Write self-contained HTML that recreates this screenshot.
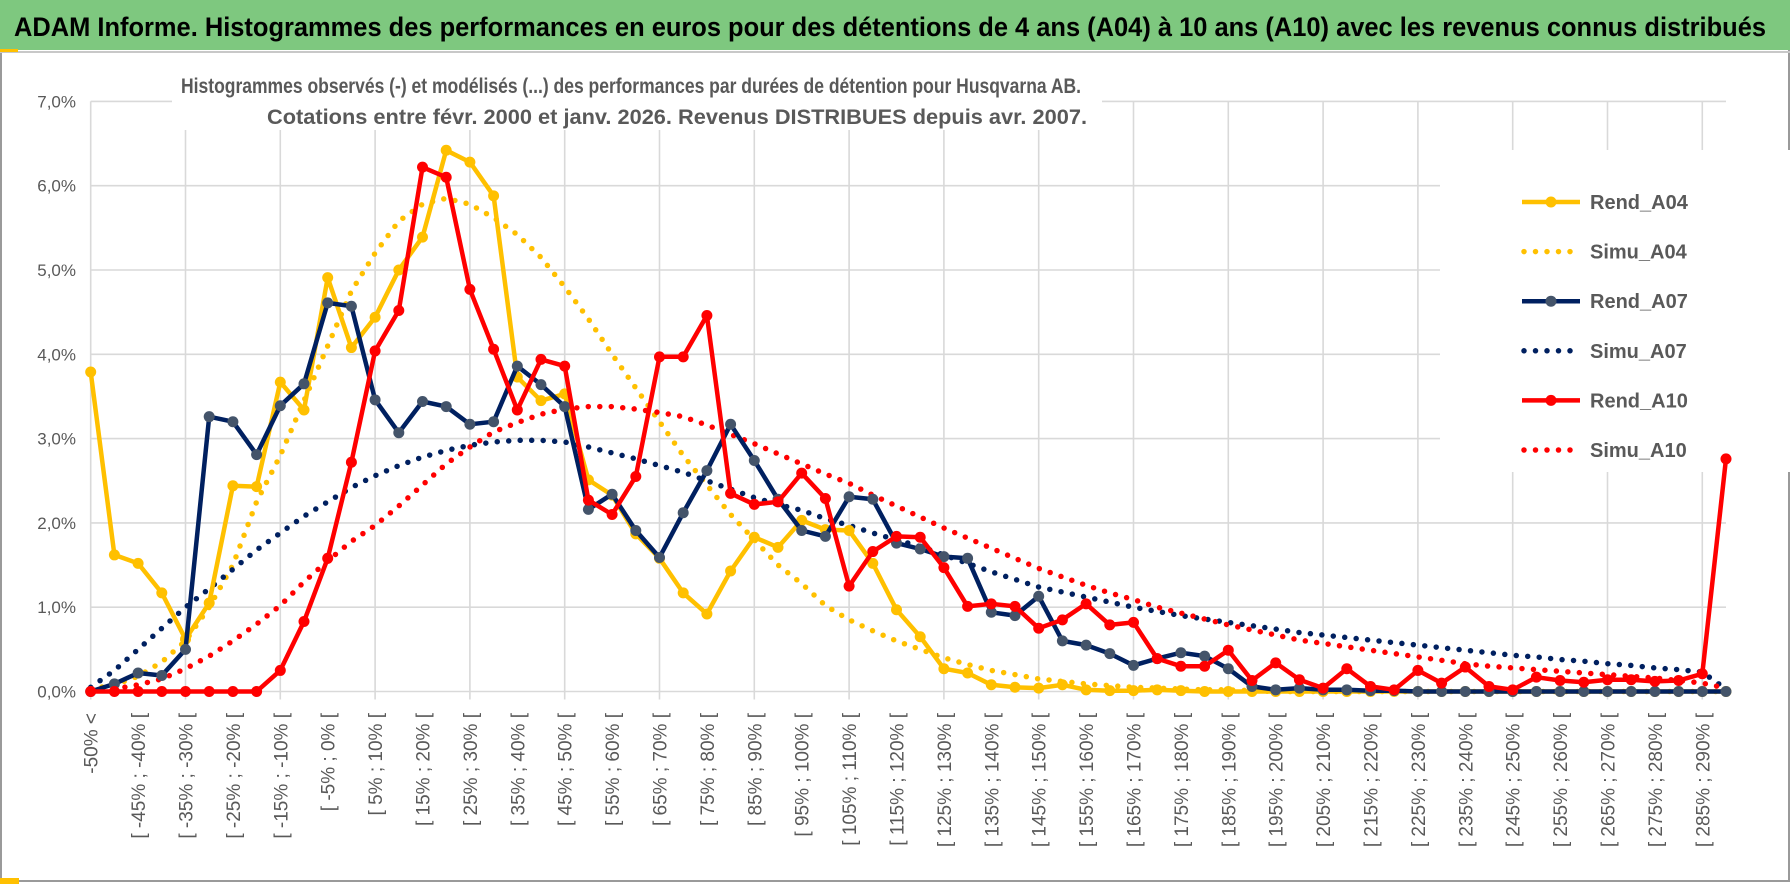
<!DOCTYPE html>
<html><head><meta charset="utf-8">
<style>
html,body{margin:0;padding:0;background:#fff;}
svg{display:block;font-family:"Liberation Sans",sans-serif;}
</style></head>
<body>
<svg id="chart" width="1790" height="888" viewBox="0 0 1790 888" xmlns="http://www.w3.org/2000/svg">
<rect x="0" y="0" width="1790" height="888" fill="#fff"/>
<rect x="1" y="1" width="1788" height="880" fill="none" stroke="#9a9a9a" stroke-width="2"/>
<rect x="0" y="0" width="1790" height="50" fill="#7EC87F"/>
<line x1="0" y1="52" x2="1790" y2="52" stroke="#c8c8c8" stroke-width="2"/>
<rect x="0" y="49" width="18" height="3" fill="#FFC000"/>
<rect x="0" y="878" width="19" height="6" fill="#FFC000"/>
<text x="14" y="36" font-size="27" font-weight="bold" fill="#000" textLength="1752" lengthAdjust="spacingAndGlyphs">ADAM Informe. Histogrammes des performances en euros pour des détentions de 4 ans (A04) à 10 ans (A10) avec les revenus connus distribués</text>
<g id="grid"></g>
<g id="ylabels"></g>
<g id="xlabels"></g>
<rect x="172" y="68" width="930" height="62" fill="#fff"/>
<text x="631" y="93" text-anchor="middle" font-size="21" font-weight="bold" fill="#595959" textLength="900" lengthAdjust="spacingAndGlyphs">Histogrammes observés (-) et modélisés (...) des performances par durées de détention pour Husqvarna AB.</text>
<text x="677" y="124" text-anchor="middle" font-size="21" font-weight="bold" fill="#595959" textLength="820" lengthAdjust="spacingAndGlyphs">Cotations entre févr. 2000 et janv. 2026. Revenus DISTRIBUES depuis avr. 2007.</text>
<rect x="1440" y="150" width="350" height="322" fill="#fff"/>
<g id="series"></g>
<g id="legend"></g>
</svg>
<script>
const categories = [];
categories.push("-50% <");
for (let s = -50; s < 290; s += 5) categories.push("[ " + s + "% ; " + (s + 5) + "% [");
categories.push("290% >");
const yTicks = [0,1,2,3,4,5,6,7];
const yTickLabels = ["0,0%","1,0%","2,0%","3,0%","4,0%","5,0%","6,0%","7,0%"];
const rendA04 = [3.79,1.62,1.52,1.17,0.62,1.05,2.44,2.43,3.67,3.34,4.91,4.08,4.44,5.0,5.39,6.42,
6.28,5.88,3.73,3.45,3.53,2.51,2.33,1.87,1.58,1.17,0.92,1.43,1.83,1.71,2.03,
1.92,1.91,1.52,0.97,0.65,0.27,0.22,0.08,0.05,0.04,0.08,0.02,0.01,0.01,0.02,
0.01,0,0,0,0,0,0,0,0,0,0,0,0,0,0,0,0,0,0,0,0,0,0,0];
const rendA07 = [0,0.09,0.22,0.19,0.5,3.26,3.2,2.81,3.39,3.65,4.61,4.57,3.46,3.07,3.44,3.38,
3.17,3.2,3.86,3.64,3.38,2.16,2.34,1.91,1.59,2.12,2.62,3.17,2.74,2.28,1.91,
1.84,2.31,2.28,1.76,1.69,1.6,1.58,0.94,0.9,1.13,0.6,0.55,0.45,0.31,0.39,
0.46,0.42,0.27,0.06,0.02,0.04,0.02,0.02,0.01,0.01,0,0,0,0,0,0,0,0,0,0,0,0,0,0];
const rendA10 = [0,0,0,0,0,0,0,0,0.25,0.83,1.58,2.72,4.04,4.52,6.22,6.1,
4.77,4.06,3.34,3.94,3.86,2.27,2.1,2.55,3.97,3.97,4.46,2.35,2.22,2.25,2.59,
2.29,1.25,1.66,1.84,1.83,1.47,1.01,1.04,1.01,0.75,0.85,1.04,0.79,0.82,0.39,
0.3,0.3,0.49,0.13,0.34,0.14,
0.04,0.27,0.06,0.02,0.25,0.1,0.29,0.06,0.02,0.17,0.13,0.11,0.14,0.14,0.12,0.13,0.21,2.76];
const simuA04 = [0.03,0.08,0.18,0.35,0.6,1.0,1.5,2.25,2.8,3.45,4.1,4.75,5.2,5.58,5.78,5.85,
5.78,5.62,5.42,5.15,4.8,4.42,4.0,3.6,3.2,2.8,2.45,2.1,1.8,1.5,1.28,
1.02,0.85,0.72,0.6,0.5,0.4,0.32,0.25,0.2,0.15,0.12,0.09,0.07,0.05,0.04,
0.03,0.02,0.02,0.01,0,0,0,0,0,0,0,0,0,0,0,0,0,0,0,0,0,0,0,0];
const simuA07 = [0.05,0.25,0.5,0.75,1.0,1.22,1.45,1.68,1.88,2.08,2.25,2.42,2.56,2.68,2.78,2.86,
2.92,2.96,2.98,2.98,2.96,2.9,2.83,2.76,2.68,2.6,2.5,2.4,2.3,2.22,2.15,
2.05,1.97,1.88,1.8,1.72,1.62,1.52,1.42,1.33,1.24,1.18,1.12,1.06,1.0,0.95,
0.9,0.86,0.82,0.78,0.74,0.7,0.67,0.64,0.61,0.58,0.55,0.52,0.49,0.46,0.43,0.41,0.38,0.36,0.33,0.31,0.28,0.26,0.23,0.03];
const simuA10 = [0,0.03,0.08,0.15,0.27,0.42,0.6,0.8,1.02,1.3,1.55,1.78,1.97,2.2,2.45,2.7,
2.9,3.08,3.19,3.29,3.35,3.38,3.38,3.35,3.31,3.26,3.16,3.05,2.94,2.82,2.7,
2.58,2.47,2.33,2.2,2.07,1.94,1.82,1.7,1.58,1.46,1.36,1.26,1.17,1.09,1.0,
0.93,0.86,0.79,0.73,0.67,0.61,0.57,0.53,0.49,0.45,0.41,0.37,0.33,0.3,0.28,0.26,0.24,0.22,0.2,0.18,0.16,0.13,0.1,0.04];

const NS = "http://www.w3.org/2000/svg";
const X0 = 90.7, XR = 1726, Y0 = 691.5, YPU = 84.3;
const n = categories.length;
function xScale(i){ return X0 + i * (XR - X0) / (n - 1); }
function yScale(v){ return Y0 - v * YPU; }
function mk(tag, attrs, parent){
  const e = document.createElementNS(NS, tag);
  for (const k in attrs) e.setAttribute(k, attrs[k]);
  parent.appendChild(e); return e;
}
const grid = document.getElementById('grid');
yTicks.forEach(function(t){
  const l = mk('line', {x1: X0, x2: XR, y1: yScale(t), y2: yScale(t), stroke: '#D9D9D9', 'stroke-width': 1.6}, grid);
  
  
});
for (let i = 0; i < n; i += 4) {
  const l = mk('line', {x1: xScale(i), x2: xScale(i), y1: yScale(7), y2: Y0 + 8, stroke: '#D9D9D9', 'stroke-width': 1.6}, grid);
  
  
}
const yl = document.getElementById('ylabels');
yTicks.forEach(function(t, k){
  const tx = mk('text', {x: 76, y: yScale(t) + 6, 'text-anchor': 'end', 'font-size': 17, fill: '#595959'}, yl);
  tx.textContent = yTickLabels[k];
  
  
});
const xl = document.getElementById('xlabels');
for (let i = 0; i < n - 1; i += 2) {
  const x = xScale(i) + 7, y = 713;
  const tx = mk('text', {x: x, y: y, 'text-anchor': 'end', 'font-size': 19, fill: '#595959', transform: 'rotate(-90 ' + x + ' ' + y + ')'}, xl);
  tx.textContent = categories[i];
  
  
}
const seriesLayer = document.getElementById('series');
function pts(arr){ return arr.map(function(v, i){ return xScale(i).toFixed(1) + ',' + yScale(v).toFixed(1); }).join(' '); }
function dotted(arr, color, name){
  const p = mk('polyline', {points: pts(arr), fill: 'none', stroke: color, 'stroke-width': 5.5, 'stroke-linecap': 'round', 'stroke-dasharray': '0 11.5'}, seriesLayer);
  
  
}
function solid(arr, color, mcolor, name){
  const g = mk('g', {}, seriesLayer);
  
  
  mk('polyline', {points: pts(arr), fill: 'none', stroke: color, 'stroke-width': 4.5, 'stroke-linejoin': 'round'}, g);
  arr.forEach(function(v, i){
    const c = mk('circle', {cx: xScale(i), cy: yScale(v), r: 5.5, fill: mcolor}, g);
    
    
  });
}
dotted(simuA04, '#FFC000', 'simu-a04-line');
dotted(simuA07, '#002060', 'simu-a07-line');
dotted(simuA10, '#FF0000', 'simu-a10-line');
solid(rendA04, '#FFC000', '#FFC000', 'rend-a04-line');
solid(rendA07, '#002060', '#44546A', 'rend-a07-line');
solid(rendA10, '#FF0000', '#FF0000', 'rend-a10-line');

const legendNames = ["Rend_A04","Simu_A04","Rend_A07","Simu_A07","Rend_A10","Simu_A10"];
const legendColors = ["#FFC000","#FFC000","#002060","#002060","#FF0000","#FF0000"];
const legendMarker = ["#FFC000",null,"#44546A",null,"#FF0000",null];
const lg = document.getElementById('legend');
legendNames.forEach(function(nm, k){
  const y = 202 + k * 49.6;
  const g = mk('g', {}, lg);
  
  
  if (legendMarker[k]) {
    mk('line', {x1: 1522, x2: 1580, y1: y, y2: y, stroke: legendColors[k], 'stroke-width': 4.5}, g);
    mk('circle', {cx: 1551, cy: y, r: 5.5, fill: legendMarker[k]}, g);
  } else {
    mk('line', {x1: 1524, x2: 1580, y1: y, y2: y, stroke: legendColors[k], 'stroke-width': 5.5, 'stroke-linecap': 'round', 'stroke-dasharray': '0 11.5'}, g);
  }
  const t = mk('text', {x: 1590, y: y + 7, 'font-size': 20, 'font-weight': 'bold', fill: '#595959'}, g);
  t.textContent = nm;
});
</script>
</body></html>
